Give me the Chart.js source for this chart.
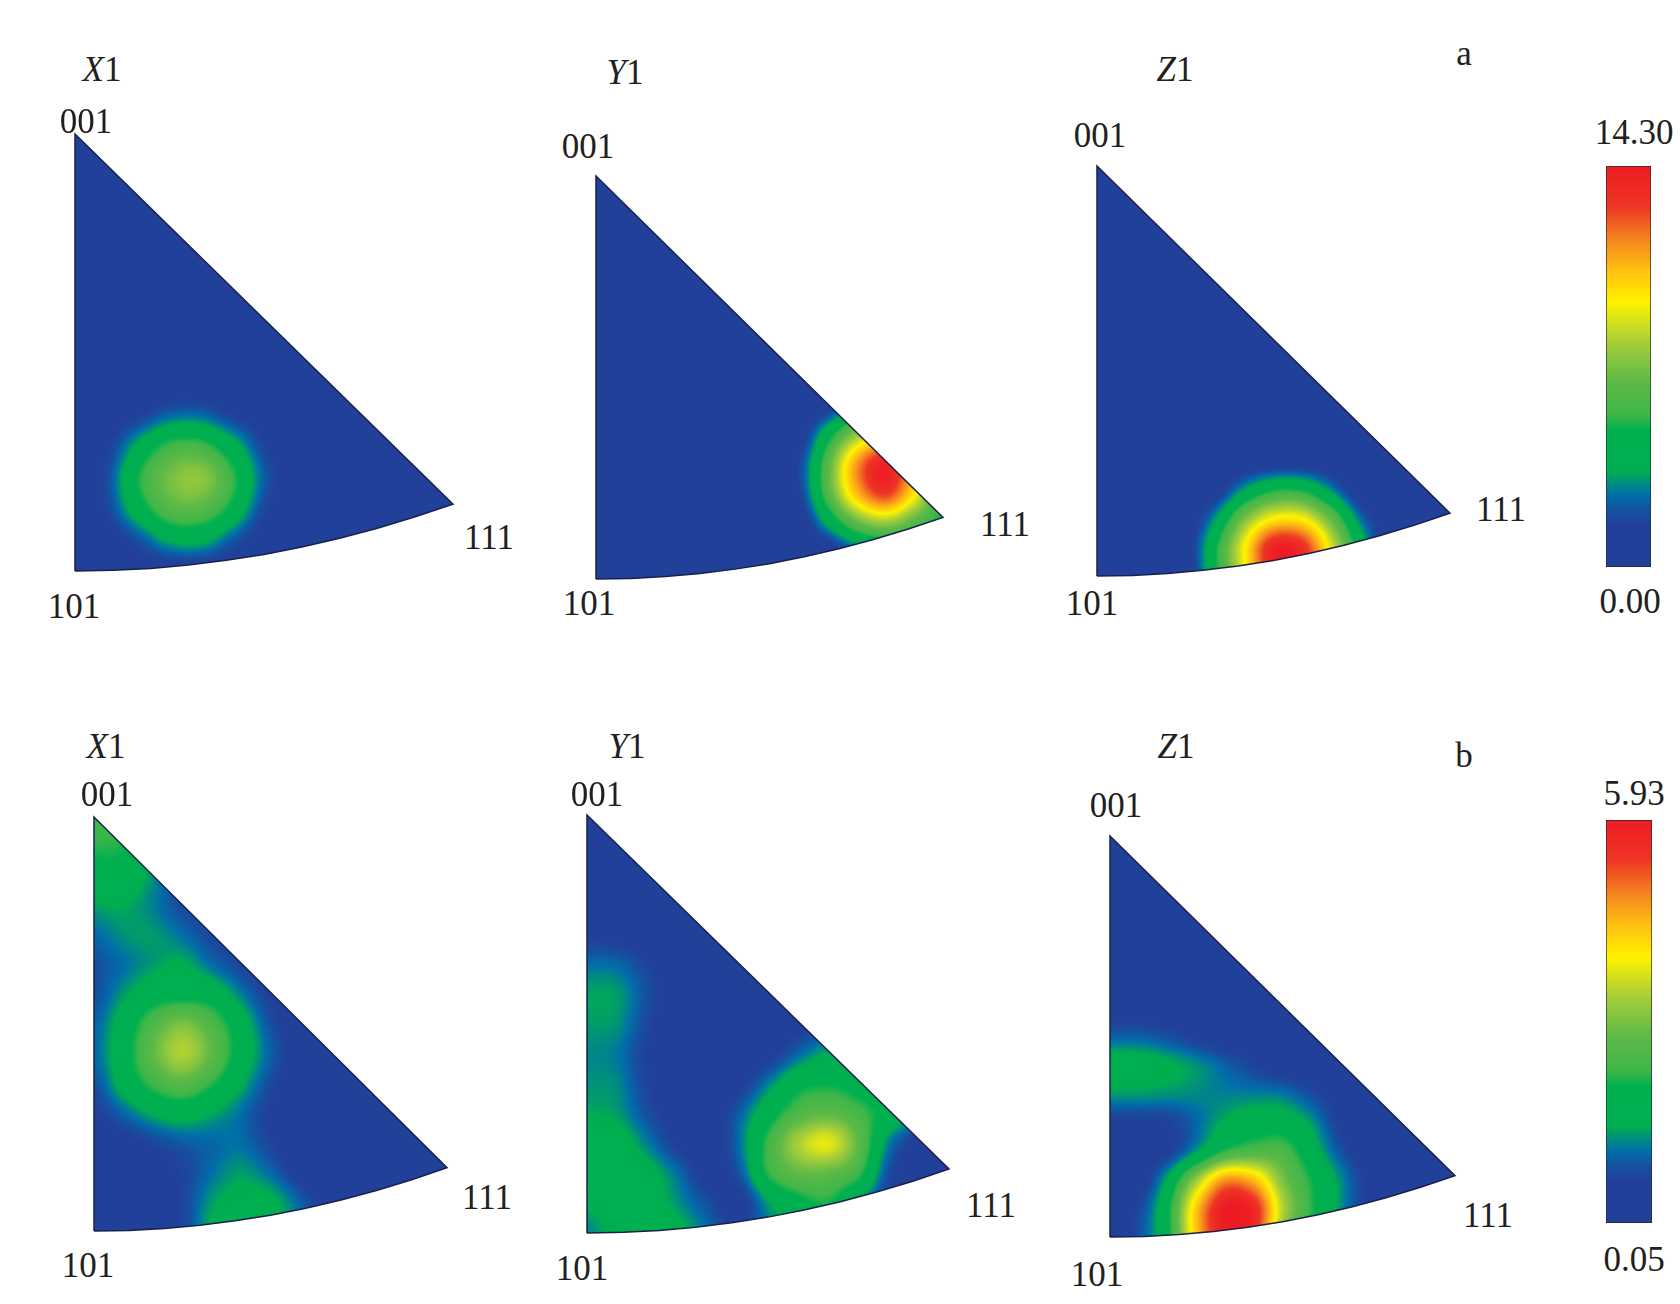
<!DOCTYPE html>
<html>
<head>
<meta charset="utf-8">
<title>Inverse pole figures</title>
<script src="https://cdn.jsdelivr.net/npm/chart.js@4"></script>
<style>
  html, body { margin: 0; background: #fff; }
  #page { position: relative; width: 1680px; height: 1304px; overflow: hidden; }
  #page canvas { position: absolute; }
  .lbl { position: absolute; transform: translate(-50%, -50%); font: 35px "Liberation Serif", serif; color: #231f20; white-space: nowrap; }
</style>
</head>
<body>
<div id="page"></div>
<script>
  // triangle outline, 101 -> 111 along the arc, then up to 001 and back
  const outlineX = [0, 0.1, 0.2, 0.3, 0.4, 0.5, 0.6, 0.7, 0.8, 0.9, 1, 0, 0];
  const outlineY = [0, 0.0015, 0.006, 0.0138, 0.0245, 0.038, 0.055, 0.075, 0.098, 0.124, 0.153, 1, 0];

  // colour bar (fraction of the range -> colour)
  const colorFractions = [0, 0.1, 0.14, 0.18, 0.24, 0.34, 0.38, 0.46, 0.56, 0.66, 0.74, 0.82, 0.9, 1];
  const colorValues = ['#21409a', '#21409a', '#1550a0', '#006fa8', '#00ae50', '#00b04f', '#3fb649', '#5cb947',
    '#a6ce39', '#fff200', '#fec010', '#f58220', '#ee3524', '#ed1c24'];

  const rangeA = [0, 14.3];
  const rangeB = [0.05, 5.93];
  const floorA = 0.4;
  const floorB = 0.2;

  // pole density on a 13 x 15 grid, first row is y = 1, last row y = 0; short rows continue at the floor value
  const aX1 = [
    [], [], [], [], [], [], [], [],
    [.4, .4, .5, .7, .7, .5],
    [.4, .7, 1.4, 2.4, 2.5, 1.5, .8],
    [.5, 1.3, 3.6, 5.5, 5.6, 3.9, 1.6, .5],
    [.6, 1.8, 5.0, 7.0, 7.5, 5.4, 2.3, .7],
    [.5, 1.6, 4.2, 6.2, 6.3, 4.6, 1.7, .5],
    [.4, .8, 2.0, 3.5, 3.7, 2.2, .8],
    [.4, .4, .7, .9, .9, .7]
  ];
  const aY1 = [
    [], [], [], [], [], [], [],
    [.4, .4, .4, .4, .4, .4, .4, .4, .4, .4, .6, .4, .4],
    [.4, .4, .4, .4, .4, .4, .4, .4, 1.1, 3.4, 4.3, 3.1, .7],
    [.4, .4, .4, .4, .4, .4, .4, .7, 4.3, 7.6, 9.0, 7.0, 3.7],
    [.4, .4, .4, .4, .4, .4, .4, 1.6, 6.1, 11.2, 13.9, 10.3, 5.6],
    [.4, .4, .4, .4, .4, .4, .4, 1.4, 6.0, 10.6, 13.0, 9.7, 5.3],
    [.4, .4, .4, .4, .4, .4, .4, .6, 3.7, 6.7, 8.0, 6.4, 4.7],
    [.4, .4, .4, .4, .4, .4, .4, .4, .7, 2.4, 3.1, 2.9, 1.4],
    [.4, .4, .4, .4, .4, .4, .4, .4, .4, .7, .9, .7, .4]
  ];
  const aZ1 = [
    [], [], [], [], [], [], [], [], [], [],
    [.4, .4, .4, .4, .4, .4, .6, .6],
    [.4, .4, .4, .4, .7, 3.1, 4.7, 4.6, 2.7, .4],
    [.4, .4, .4, .4, 3.0, 6.9, 9.3, 9.2, 6.3, 2.4, .4],
    [.4, .4, .4, .7, 4.7, 9.3, 13.8, 13.2, 8.6, 4.0, .4],
    [.4, .4, .4, .6, 4.6, 9.0, 13.6, 13.0, 8.3, 3.9, .4]
  ];
  const bX1 = [
    [2.3, 2.2, 1.5],
    [2.2, 2.1, 1.5, .9],
    [1.8, 1.8, 1.3, .8, .4],
    [1.4, 1.45, 1.2, .8, .6, .4],
    [1.05, 1.3, 1.35, 1.1, .75, .55, .3],
    [.85, 1.1, 1.35, 1.5, 1.1, .7, .35],
    [.85, 1.35, 1.8, 1.9, 1.8, 1.2, .6, .3],
    [1.0, 1.7, 2.5, 3.0, 2.5, 1.7, .85, .35],
    [1.05, 1.8, 2.75, 3.4, 2.75, 1.8, 1.0, .4],
    [.85, 1.65, 2.3, 2.65, 2.2, 1.5, .8, .35],
    [.6, 1.05, 1.5, 1.7, 1.45, 1.1, .6, .3],
    [.35, .5, .75, .95, 1.05, 1.1, .7, .3],
    [.2, .35, .45, .7, 1.1, 1.35, 1.05, .5],
    [.2, .3, .4, .7, 1.35, 1.6, 1.55, 1.0, .4],
    [.2, .3, .4, .7, 1.5, 1.7, 1.6, 1.1, .45]
  ];
  const bY1 = [
    [], [], [],
    [.3],
    [.6, .5, .3],
    [1.1, 1.05, .7, .35],
    [1.4, 1.35, .85, .4],
    [1.35, 1.3, .75, .35, .2, .2, .3, .5, .75, .6],
    [1.25, 1.15, .65, .3, .2, .3, .5, 1.05, 1.45, 1.45, .6],
    [1.3, 1.25, .7, .35, .3, .5, 1.2, 1.9, 2.05, 1.8, 1.35, .5],
    [1.45, 1.35, .85, .4, .35, .95, 1.8, 2.5, 2.75, 2.4, 1.8, 1.2, .3],
    [1.75, 1.7, 1.2, .6, .35, 1.05, 2.3, 3.35, 3.75, 2.75, 1.2, .5],
    [1.7, 1.7, 1.6, 1.1, .5, .85, 2.2, 2.75, 2.75, 2.3, .85, .35],
    [1.5, 1.7, 1.7, 1.3, .85, .45, 1.35, 1.9, 2.1, 1.35, .6, .3],
    [1.2, 1.6, 1.8, 1.6, 1.1, .65, 1.2, 1.6, 1.65, 1.3, .6, .3]
  ];
  const bZ1 = [
    [], [], [], [], [], [],
    [.35, .35, .35, .3],
    [1.0, 1.0, .85, .6, .4, .3],
    [1.65, 1.65, 1.5, 1.3, 1.0, .7, .4, .3],
    [1.35, 1.35, 1.3, 1.25, 1.2, 1.2, 1.15, .8, .45],
    [.6, .6, .65, 1.05, 1.5, 1.75, 1.75, 1.35, .6, .3],
    [.35, .35, .6, 1.35, 2.2, 2.5, 2.45, 1.7, .9, .35],
    [.3, .4, 1.5, 3.2, 4.7, 4.4, 3.0, 2.1, 1.3, .55],
    [.3, .75, 1.95, 4.3, 5.93, 5.65, 3.45, 2.2, 1.3, .55],
    [.3, .85, 1.95, 4.3, 5.93, 5.5, 3.1, 2.0, 1.2, .5]
  ];

  // page layout: box = [left, top, right, bottom] of the triangle
  const panels = [
    { grid: aX1, range: rangeA, floor: floorA, box: [75, 134, 453, 571] },
    { grid: aY1, range: rangeA, floor: floorA, box: [596, 176, 943, 579] },
    { grid: aZ1, range: rangeA, floor: floorA, box: [1097, 166, 1450, 576] },
    { grid: bX1, range: rangeB, floor: floorB, box: [94, 817, 447, 1231] },
    { grid: bY1, range: rangeB, floor: floorB, box: [587, 815, 949, 1233] },
    { grid: bZ1, range: rangeB, floor: floorB, box: [1110, 836, 1455, 1237] }
  ];
  const colorBars = [
    { range: rangeA, box: [1606, 166, 1651, 567] },
    { range: rangeB, box: [1606, 820, 1652, 1223] }
  ];
  const labels = [
    ['<i>X</i>1', 102, 70], ['001', 86, 122], ['101', 74, 607], ['111', 489, 538],
    ['<i>Y</i>1', 625, 73], ['001', 588, 147], ['101', 589, 604], ['111', 1005, 525],
    ['<i>Z</i>1', 1175, 70], ['001', 1100, 136], ['101', 1092, 604], ['111', 1501, 510],
    ['a', 1464, 54], ['14.30', 1634, 133], ['0.00', 1630, 602],
    ['<i>X</i>1', 106, 747], ['001', 107, 795], ['101', 88, 1266], ['111', 487, 1198],
    ['<i>Y</i>1', 627, 747], ['001', 597, 795], ['101', 582, 1269], ['111', 991, 1206],
    ['<i>Z</i>1', 1176, 747], ['001', 1116, 806], ['101', 1097, 1275], ['111', 1488, 1216],
    ['b', 1464, 756], ['5.93', 1634, 794], ['0.05', 1634, 1260]
  ];

  const COLS = 13, ROWS = 15, PAD = 4;
  const page = document.getElementById('page');

  const stopRgb = colorValues.map((c) => [1, 3, 5].map((k) => parseInt(c.slice(k, k + 2), 16)));

  function colorAt(f) {
    let k = 1;
    while (k < colorFractions.length - 1 && f > colorFractions[k]) k++;
    const t = Math.min(1, Math.max(0, (f - colorFractions[k - 1]) / (colorFractions[k] - colorFractions[k - 1])));
    return stopRgb[k - 1].map((c, n) => c + (stopRgb[k][n] - c) * t);
  }

  function catmull(a, b, c, d, t) {
    return b + 0.5 * t * (c - a + t * (2 * a - 5 * b + 4 * c - d + t * (3 * (b - c) + d - a)));
  }

  // paints the density surface under the outline, value by value through the scales
  const surfacePlugin = {
    id: 'surface',
    beforeDatasetsDraw(chart) {
      const { ctx, chartArea, scales } = chart;
      const cells = chart.data.datasets[1].data;
      const [lo, hi] = chart.options.plugins.surface.range;
      const at = (r, c) => cells[Math.min(ROWS - 1, Math.max(0, r)) * COLS + Math.min(COLS - 1, Math.max(0, c))].v;
      const w = Math.ceil(chartArea.width), h = Math.ceil(chartArea.height);
      const off = document.createElement('canvas');
      off.width = w;
      off.height = h;
      const octx = off.getContext('2d');
      const img = octx.createImageData(w, h);
      for (let py = 0; py < h; py++) {
        const rowPos = (1 - scales.y.getValueForPixel(chartArea.top + py + 0.5)) * (ROWS - 1);
        const r = Math.floor(rowPos), tr = rowPos - r;
        for (let px = 0; px < w; px++) {
          const colPos = scales.x.getValueForPixel(chartArea.left + px + 0.5) * (COLS - 1);
          const c = Math.floor(colPos), tc = colPos - c;
          const line = [-1, 0, 1, 2].map((dr) =>
            catmull(at(r + dr, c - 1), at(r + dr, c), at(r + dr, c + 1), at(r + dr, c + 2), tc));
          const v = catmull(line[0], line[1], line[2], line[3], tr);
          const rgb = colorAt((v - lo) / (hi - lo));
          const p = (py * w + px) * 4;
          img.data[p] = rgb[0];
          img.data[p + 1] = rgb[1];
          img.data[p + 2] = rgb[2];
          img.data[p + 3] = 255;
        }
      }
      octx.putImageData(img, 0, 0);
      ctx.save();
      ctx.beginPath();
      outlineX.forEach((x, i) => {
        ctx.lineTo(scales.x.getPixelForValue(x), scales.y.getPixelForValue(outlineY[i]));
      });
      ctx.closePath();
      ctx.clip();
      ctx.drawImage(off, chartArea.left, chartArea.top);
      ctx.restore();
    }
  };

  function addCanvas(box) {
    const canvas = document.createElement('canvas');
    canvas.width = box[2] - box[0] + PAD * 2;
    canvas.height = box[3] - box[1] + PAD * 2;
    canvas.style.left = box[0] - PAD + 'px';
    canvas.style.top = box[1] - PAD + 'px';
    page.appendChild(canvas);
    return canvas;
  }

  function renderPanel(panel) {
    const cells = [];
    for (let r = 0; r < ROWS; r++) {
      for (let c = 0; c < COLS; c++) {
        const v = panel.grid[r][c];
        cells.push({ x: c / (COLS - 1), y: 1 - r / (ROWS - 1), v: v === undefined ? panel.floor : v });
      }
    }
    new Chart(addCanvas(panel.box), {
      type: 'scatter',
      plugins: [surfacePlugin],
      data: {
        datasets: [
          {
            label: 'outline',
            data: outlineX.map((x, i) => ({ x, y: outlineY[i] })),
            showLine: true,
            borderColor: '#1a2147',
            borderWidth: 1.5,
            pointRadius: 0,
            clip: false
          },
          { label: 'density', data: cells, pointRadius: 0 }
        ]
      },
      options: {
        responsive: false,
        animation: false,
        layout: { padding: PAD },
        plugins: { legend: { display: false }, tooltip: { enabled: false }, surface: { range: panel.range } },
        scales: {
          x: { type: 'linear', min: 0, max: 1, display: false },
          y: { type: 'linear', min: 0, max: 1, display: false }
        }
      }
    });
  }

  function renderColorBar(bar) {
    const canvas = addCanvas(bar.box);
    const gradient = canvas.getContext('2d').createLinearGradient(0, canvas.height - PAD, 0, PAD);
    colorFractions.forEach((f, i) => gradient.addColorStop(f, colorValues[i]));
    new Chart(canvas, {
      type: 'bar',
      data: {
        labels: [''],
        datasets: [{
          data: [bar.range],
          barPercentage: 1,
          categoryPercentage: 1,
          borderWidth: 1,
          borderColor: '#2a2a2a',
          borderSkipped: false,
          backgroundColor: gradient
        }]
      },
      options: {
        responsive: false,
        animation: false,
        layout: { padding: PAD },
        plugins: { legend: { display: false }, tooltip: { enabled: false } },
        scales: {
          x: { display: false },
          y: { display: false, min: bar.range[0], max: bar.range[1] }
        }
      }
    });
  }

  panels.forEach(renderPanel);
  colorBars.forEach(renderColorBar);

  labels.forEach(([text, x, y]) => {
    const el = document.createElement('div');
    el.className = 'lbl';
    el.innerHTML = text;
    el.style.left = x + 'px';
    el.style.top = y + 'px';
    page.appendChild(el);
  });
</script>
</body>
</html>
